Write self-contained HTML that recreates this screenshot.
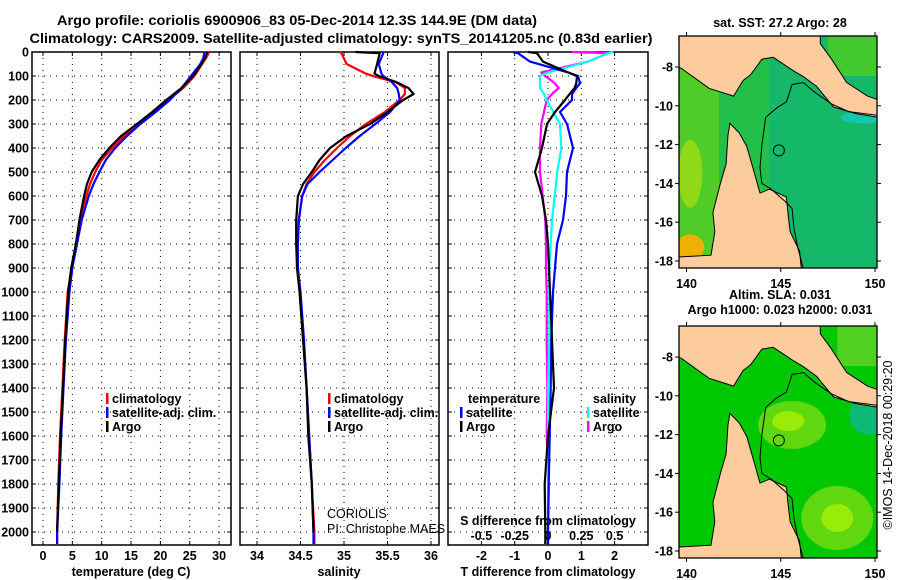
<!DOCTYPE html>
<html><head><meta charset="utf-8"><style>
body{margin:0;background:#fff;}
svg{display:block;font-family:"Liberation Sans",sans-serif;}
.b{font-weight:bold;font-size:12.5px;}
</style></head><body>
<svg id="c" width="900" height="580" viewBox="0 0 900 580">
<text x="297" y="25" text-anchor="middle" font-size="14" font-weight="bold" textLength="480" lengthAdjust="spacingAndGlyphs">Argo profile: coriolis 6900906_83 05-Dec-2014 12.3S 144.9E (DM data)</text>
<text x="341" y="43" text-anchor="middle" font-size="14" font-weight="bold" textLength="623" lengthAdjust="spacingAndGlyphs">Climatology: CARS2009. Satellite-adjusted climatology: synTS_20141205.nc (0.83d earlier)</text>
<g id="panels"></g>
<g id="maps"></g>
<text transform="translate(892,445) rotate(-90)" text-anchor="middle" font-size="12.5">©IMOS 14-Dec-2018 00:29:20</text>
</svg>
<script>
// ---------- data ----------
const depths = [0,25,50,100,150,200,250,300,350,400,450,500,550,600,700,800,900,1000,1200,1400,1600,1800,2000,2050];
const tempArgo = [28.0,27.6,27.0,25.6,23.6,21.0,18.6,16.0,13.3,11.3,9.6,8.3,7.5,7.0,6.2,5.6,4.8,4.3,3.8,3.4,3.0,2.7,2.4,2.4];
const tempClim = [28.3,27.8,27.1,25.8,23.9,21.3,18.8,16.2,13.8,11.8,10.0,8.9,8.0,7.4,6.4,5.6,4.9,4.2,3.7,3.3,2.9,2.6,2.4,2.4];
const tempSat = [27.5,27.3,26.8,25.2,23.6,21.6,19.2,16.6,14.3,12.3,10.7,9.6,8.6,7.8,6.6,5.8,5.0,4.5,3.9,3.5,3.1,2.8,2.4,2.4];
const salDepths = [0,5,50,90,100,125,150,175,200,250,300,350,400,450,500,550,600,700,800,900,1000,1200,1400,1600,1800,2000,2050];
const salArgo = [35.13,35.41,35.38,35.35,35.4,35.6,35.74,35.8,35.68,35.5,35.3,35.03,34.84,34.72,34.63,34.53,34.47,34.45,34.45,34.46,34.49,34.53,34.57,34.59,34.63,34.65,34.65];
const salClim = [34.95,34.97,35.03,35.25,35.33,35.59,35.7,35.7,35.64,35.47,35.25,35.07,34.92,34.78,34.66,34.57,34.52,34.48,34.47,34.47,34.49,34.53,34.57,34.6,34.63,34.66,34.66];
const salSat = [35.45,35.45,35.4,35.43,35.45,35.55,35.61,35.63,35.64,35.53,35.36,35.18,35.02,34.87,34.72,34.58,34.52,34.48,34.47,34.47,34.5,34.54,34.57,34.6,34.63,34.65,34.65];
const diffDepths = [0,5,40,85,100,130,150,175,200,250,300,400,500,600,700,800,900,1000,1200,1400,1600,1800,2000,2050];
const dTSat = [-1.05,-0.9,-0.54,0.6,0.9,0.96,0.85,0.72,0.72,0.36,0.57,0.75,0.57,0.54,0.45,0.27,0.21,0.15,0.1,0.08,0.05,0.02,0.0,0.0];
const dTArgo = [-0.6,-0.33,-0.15,0.6,0.87,0.85,0.8,0.65,0.51,0.21,-0.03,-0.18,-0.39,-0.18,-0.06,0.0,0.03,0.06,0.12,0.18,0.0,-0.1,-0.08,-0.08];
const dSSat = [0.49,0.45,0.3,0.0,-0.06,-0.06,-0.06,-0.03,-0.01,0.04,0.09,0.1,0.07,0.05,0.03,0.02,0.01,0.01,0.01,0.0,0.0,0.0,0.0,0.0];
const dSArgo = [0.18,0.45,0.3,-0.05,-0.02,0.05,0.08,0.03,-0.01,-0.03,-0.05,-0.06,-0.06,-0.04,-0.02,-0.015,-0.015,-0.01,-0.01,-0.005,-0.01,0.005,0.0,0.0];
const tempTicks = [0,5,10,15,20,25,30];
const salTicks = [34,34.5,35,35.5,36];
const salTickLabels = ["34","34.5","35","35.5","36"];
const dTTicks = [-2,-1,0,1,2];
const dSTicks = [-0.5,-0.25,0,0.25,0.5];
const dSTickLabels = ["-0.5","-0.25","0","0.25","0.5"];
const depthTicks = [0,100,200,300,400,500,600,700,800,900,1000,1100,1200,1300,1400,1500,1600,1700,1800,1900,2000];
const latTicks = [-8,-10,-12,-14,-16,-18];
const lonTicks = [140,145,150];

// ---------- helpers ----------
const NS="http://www.w3.org/2000/svg";
function mk(parent,tag,attrs,text){const e=document.createElementNS(NS,tag);for(const k in attrs)e.setAttribute(k,attrs[k]);if(text!==undefined)e.textContent=text;parent.appendChild(e);return e;}
const TOP=52,BOT=545;
const yD = d => TOP + d*0.24;
const panels=document.getElementById('panels');

function panel(name,x0,x1,xs,ticks,tickLabels,vgrid){
  const g=mk(panels,'g',{});
  
  
  depthTicks.forEach(d=>{const l=mk(g,'line',{x1:x0,x2:x1,y1:yD(d),y2:yD(d),stroke:'#000','stroke-width':1,'stroke-dasharray':'1,5'});
    
    
    mk(g,'line',{x1:x0,x2:x0+4,y1:yD(d),y2:yD(d),stroke:'#000'});mk(g,'line',{x1:x1-4,x2:x1,y1:yD(d),y2:yD(d),stroke:'#000'});});
  vgrid.forEach(v=>{const l=mk(g,'line',{x1:xs(v),x2:xs(v),y1:TOP,y2:BOT,stroke:'#000','stroke-width':1,'stroke-dasharray':'1,5'});
    
    
    mk(g,'line',{x1:xs(v),x2:xs(v),y1:TOP,y2:TOP+4,stroke:'#000'});mk(g,'line',{x1:xs(v),x2:xs(v),y1:BOT-4,y2:BOT,stroke:'#000'});});
  ticks.forEach((v,i)=>{const t=mk(g,'text',{x:xs(v),y:560,'text-anchor':'middle',class:'b'},tickLabels[i]);
    
    });
  const r=mk(g,'rect',{x:x0,y:TOP,width:x1-x0,height:BOT-TOP,fill:'none',stroke:'#000','stroke-width':1.5});
  
  
  return g;
}
function line(g,name,xs,vals,ds,color){
  const pts=vals.map((v,i)=>xs(v).toFixed(1)+','+yD(ds[i]).toFixed(1)).join(' ');
  const p=mk(g,'polyline',{points:pts,fill:'none',stroke:color,'stroke-width':2.2,'stroke-linejoin':'round'});
  
  
}
function legendEntry(g,x,y,color,label){
  mk(g,'rect',{x:x,y:y-10,width:2.5,height:11,fill:color});
  const t=mk(g,'text',{x:x+6,y:y,class:'b'},label);
  
  
}

depthTicks.forEach(d=>{const t=mk(panels,'text',{x:29,y:yD(d)+4.5,'text-anchor':'end',class:'b'},String(d));
  
  });

// panel 1 temperature
const xT=v=>43+v*5.87;
const g1=panel('temperature-panel',32,231,xT,tempTicks,tempTicks.map(String),tempTicks);
line(g1,'temp-climatology-line',xT,tempClim,depths,'#ff0000');
line(g1,'temp-satellite-line',xT,tempSat,depths,'#0000ff');
line(g1,'temp-argo-line',xT,tempArgo.slice(0,23),depths.slice(0,23),'#000000');
legendEntry(g1,106,403,'#ff0000','climatology');
legendEntry(g1,106,417,'#0000ff','satellite-adj. clim.');
legendEntry(g1,106,431,'#000','Argo');
{const t=mk(g1,'text',{x:131,y:576,'text-anchor':'middle',class:'b'},'temperature (deg C)');}

// panel 2 salinity
const xS=v=>257+(v-34)*87;
const g2=panel('salinity-panel',240,439,xS,salTicks,salTickLabels,salTicks);
line(g2,'sal-climatology-line',xS,salClim,salDepths,'#ff0000');
line(g2,'sal-satellite-line',xS,salSat,salDepths,'#0000ff');
line(g2,'sal-argo-line',xS,salArgo.slice(0,26),salDepths.slice(0,26),'#000000');
legendEntry(g2,328,403,'#ff0000','climatology');
legendEntry(g2,328,417,'#0000ff','satellite-adj. clim.');
legendEntry(g2,328,431,'#000','Argo');
{const t=mk(g2,'text',{x:339,y:576,'text-anchor':'middle',class:'b'},'salinity');}
{const t=mk(g2,'text',{x:327,y:518,'font-size':12.5},'CORIOLIS');}
{const t=mk(g2,'text',{x:327,y:533,'font-size':12.5},'PI: Christophe MAES');}

// panel 3 differences
const xDT=v=>548+v*33.3;
const xDS=v=>548+v*133.2;
const g3=panel('difference-panel',448,648,xDT,dTTicks,dTTicks.map(String),dTTicks);
line(g3,'dsal-argo-line',xDS,dSArgo,diffDepths,'#ff00ff');
line(g3,'dsal-satellite-line',xDS,dSSat,diffDepths,'#00ffff');
line(g3,'dtemp-satellite-line',xDT,dTSat,diffDepths,'#0000ff');
line(g3,'dtemp-argo-line',xDT,dTArgo,diffDepths,'#000000');
dSTicks.forEach((v,i)=>{const t=mk(g3,'text',{x:xDS(v),y:540,'text-anchor':'middle',class:'b'},dSTickLabels[i]);});
{const t=mk(g3,'text',{x:548,y:525,'text-anchor':'middle',class:'b'},'S difference from climatology');}
{const t=mk(g3,'text',{x:548,y:576,'text-anchor':'middle',class:'b'},'T difference from climatology');}
{const t=mk(g3,'text',{x:468,y:403,class:'b'},'temperature');}
{const t=mk(g3,'text',{x:593,y:403,class:'b'},'salinity');}
legendEntry(g3,460,417,'#0000ff','satellite');
legendEntry(g3,460,431,'#000','Argo');
legendEntry(g3,587,417,'#00ffff','satellite');
legendEntry(g3,587,431,'#ff00ff','Argo');

// ---------- maps ----------
const maps=document.getElementById('maps');
const lonX=lon=>686.5+(lon-140)*18.85;
const landTop=[[139.5,-6.3],[147.1,-6.3],[147.1,-6.8],[147.7,-7.6],[148.5,-8.8],[149.6,-9.5],[150.2,-9.7],[150.2,-10.6],[149,-10.4],[147.8,-10.06],[146.9,-9.0],[146.2,-8.5],[145.6,-8.15],[144.6,-7.5],[144.0,-7.6],[143.4,-8.4],[143.0,-8.7],[142.5,-9.5],[141.2,-9.1],[139.7,-8.05],[139.5,-8.05]];
const landCY=[[139.5,-17.8],[141.3,-17.7],[141.5,-16.5],[141.4,-15.5],[141.8,-14],[142.1,-13],[142.2,-11.5],[142.3,-10.9],[142.8,-11.4],[143.2,-12.1],[143.7,-13.8],[143.9,-14.5],[144.4,-14.3],[145.3,-14.7],[145.4,-15.7],[145.5,-16.5],[146,-17.5],[146.1,-18.5],[139.5,-18.5]];
const isobath=[[146.2,-18.4],[145.9,-17.3],[145.7,-16.3],[145.6,-15.3],[145.2,-14.9],[144.5,-14.3],[144.0,-14.0],[143.9,-13.2],[144.0,-12.0],[144.2,-10.6],[144.8,-10.1],[145.3,-9.8],[145.6,-8.9],[146.2,-8.8],[146.8,-9.3],[147.7,-9.9],[148.6,-10.3],[150.2,-10.5]];
function drawMap(name,off,titles,kind){
  const latY=lat=>67+off+(-8-lat)*19.4;
  const g=mk(maps,'g',{});
  
  
  const cid='clip'+off;
  const cp=mk(g,'clipPath',{id:cid});mk(cp,'rect',{x:679,y:36+off,width:198,height:232});
  const inner=mk(g,'g',{'clip-path':'url(#'+cid+')'});
  const P=arr=>arr.map(p=>lonX(p[0]).toFixed(1)+','+latY(p[1]).toFixed(1)).join(' ');
  if(kind==='sst'){
    mk(inner,'rect',{x:679,y:36+off,width:198,height:232,fill:'#14b868'});
    mk(inner,'rect',{x:679,y:36+off,width:90,height:232,fill:'#22c048'});
    mk(inner,'rect',{x:679,y:36+off,width:40,height:232,fill:'#50cc28'});
    mk(inner,'ellipse',{cx:lonX(140.2),cy:latY(-13.5),rx:12,ry:34,fill:'#90d818'});
    mk(inner,'ellipse',{cx:lonX(140.2),cy:latY(-17.3),rx:14,ry:13,fill:'#f0b000'});
    mk(inner,'rect',{x:lonX(147.5),y:36+off,width:60,height:40,fill:'#44c830'});
    mk(inner,'ellipse',{cx:lonX(149.5),cy:latY(-10.6),rx:25,ry:6,fill:'#10c8b0'});
  } else {
    mk(inner,'rect',{x:679,y:36+off,width:198,height:232,fill:'#00c800'});
    mk(inner,'ellipse',{cx:lonX(145.6),cy:latY(-11.5),rx:34,ry:24,fill:'#60d810'});
    mk(inner,'ellipse',{cx:lonX(145.4),cy:latY(-11.3),rx:16,ry:10,fill:'#98ec08'});
    mk(inner,'ellipse',{cx:lonX(148),cy:latY(-16.3),rx:36,ry:32,fill:'#60d810'});
    mk(inner,'ellipse',{cx:lonX(148),cy:latY(-16.3),rx:16,ry:14,fill:'#98ec08'});
    mk(inner,'ellipse',{cx:lonX(149.8),cy:latY(-11),rx:22,ry:20,fill:'#10b878'});
    mk(inner,'rect',{x:lonX(148),y:36+off,width:60,height:40,fill:'#50d020'});
  }
  [landTop,landCY].forEach(a=>{const p=mk(inner,'polygon',{points:P(a),fill:'#fccc9c',stroke:'#000','stroke-width':1});
    
    });
  const iso=mk(inner,'polyline',{points:P(isobath),fill:'none',stroke:'#000','stroke-width':1});
  
  
  const m=mk(inner,'circle',{cx:lonX(144.9),cy:latY(-12.3),r:5.5,fill:'none',stroke:'#000','stroke-width':1});
  
  
  const fr=mk(g,'rect',{x:679,y:36+off,width:198,height:232,fill:'none',stroke:'#000','stroke-width':1.3});
  
  
  latTicks.forEach(l=>{mk(g,'line',{x1:679,x2:675,y1:latY(l),y2:latY(l),stroke:'#000'});mk(g,'line',{x1:877,x2:881,y1:latY(l),y2:latY(l),stroke:'#000'});
    const t=mk(g,'text',{x:673,y:latY(l)+4.5,'text-anchor':'end',class:'b'},String(l));
    
    });
  lonTicks.forEach(l=>{mk(g,'line',{x1:lonX(l),x2:lonX(l),y1:36+off,y2:32+off,stroke:'#000'});mk(g,'line',{x1:lonX(l),x2:lonX(l),y1:268+off,y2:272+off,stroke:'#000'});
    const t=mk(g,'text',{x:lonX(l),y:288+off,'text-anchor':'middle',class:'b'},String(l));
    
    });
  titles.forEach((s,i)=>{const t=mk(g,'text',{x:780,y:(titles.length===1?27:9+i*15)+off,'text-anchor':'middle',class:'b'},s);
    
    });
}
drawMap('sst-map',0,['sat. SST: 27.2 Argo: 28'],'sst');
drawMap('sla-map',290,['Altim. SLA: 0.031','Argo h1000: 0.023 h2000: 0.031'],'sla');
</script>
</body></html>
